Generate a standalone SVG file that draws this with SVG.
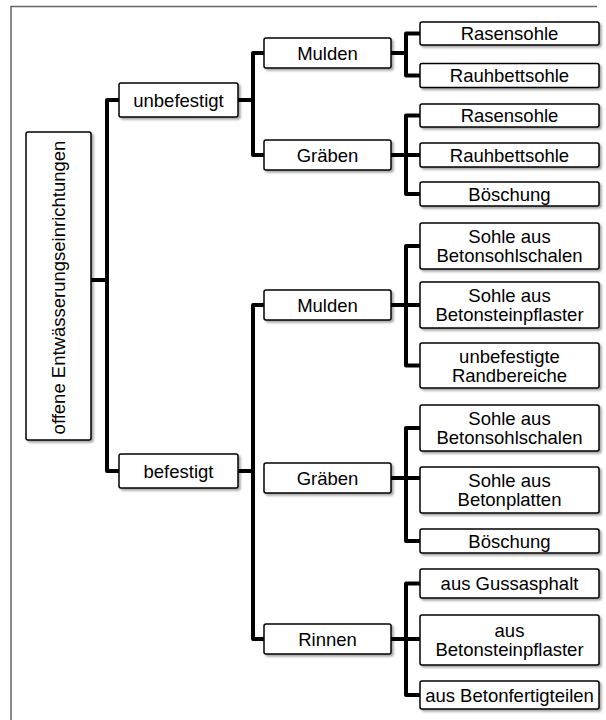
<svg xmlns="http://www.w3.org/2000/svg" width="606" height="720" viewBox="0 0 606 720">
<style>
.box{fill:#fff;stroke:#000;stroke-width:1.5;filter:url(#sh)}
.t{font-family:"Liberation Sans",Arial,sans-serif;font-size:18.5px;fill:#000;text-anchor:middle}
.c{fill:none;stroke:#000;stroke-width:4;stroke-linejoin:round}
.frame{fill:none;stroke:#666;stroke-width:1.5}
</style>
<defs>
<filter id="sh" x="-10%" y="-10%" width="130%" height="140%">
<feGaussianBlur in="SourceAlpha" stdDeviation="1.2"/>
<feOffset dx="1.5" dy="2" result="o"/>
<feComponentTransfer><feFuncA type="linear" slope="0.35"/></feComponentTransfer>
<feMerge><feMergeNode/><feMergeNode in="SourceGraphic"/></feMerge>
</filter>
</defs>
<rect width="606" height="720" fill="#fff"/>
<path class="frame" d="M11,720 V6.5 H597"/>
<g id="connectors">
<path class="c" d="M91,280 H107 M123,100 H107 V471 H123"/>
<path class="c" d="M238,100 H253 M268,53 H253 V155 H268"/>
<path class="c" d="M238,471 H253 M268,305 H253 V639 H268"/>
<path class="c" d="M391,53 H406 M424,33.5 H406 V75.5 H424"/>
<path class="c" d="M391,155 H424 M424,115.5 H406 V194 H424"/>
<path class="c" d="M391,305 H424 M424,246 H406 V365.5 H424"/>
<path class="c" d="M391,478 H424 M424,428 H406 V541 H424"/>
<path class="c" d="M391,639 H424 M424,583.5 H406 V695 H424"/>
</g>
<g id="root"><rect class="box" x="26" y="132" width="65" height="308" rx="2"/><text class="t" transform="translate(64.5,287.5) rotate(-90)">offene Entwässerungseinrichtungen</text></g>
<g id="unbefestigt"><rect class="box" x="119" y="83" width="119" height="34" rx="2"/><text class="t" x="178.5" y="106.5">unbefestigt</text></g>
<g id="befestigt"><rect class="box" x="119" y="454" width="119" height="34" rx="2"/><text class="t" x="178.5" y="477.5">befestigt</text></g>
<g id="mulden1"><rect class="box" x="264" y="38" width="127" height="30" rx="2"/><text class="t" x="327.5" y="59.5">Mulden</text></g>
<g id="graeben1"><rect class="box" x="264" y="140" width="127" height="30" rx="2"/><text class="t" x="327.5" y="161.5">Gräben</text></g>
<g id="mulden2"><rect class="box" x="264" y="290" width="127" height="30" rx="2"/><text class="t" x="327.5" y="311.5">Mulden</text></g>
<g id="graeben2"><rect class="box" x="264" y="463" width="127" height="30" rx="2"/><text class="t" x="327.5" y="484.5">Gräben</text></g>
<g id="rinnen"><rect class="box" x="264" y="624" width="127" height="30" rx="2"/><text class="t" x="327.5" y="645.5">Rinnen</text></g>
<g id="l1"><rect class="box" x="420" y="22" width="179" height="23" rx="2"/><text class="t" x="509.5" y="40">Rasensohle</text></g>
<g id="l2"><rect class="box" x="420" y="63.5" width="179" height="24" rx="2"/><text class="t" x="509.5" y="82">Rauhbettsohle</text></g>
<g id="l3"><rect class="box" x="420" y="104" width="179" height="23" rx="2"/><text class="t" x="509.5" y="122">Rasensohle</text></g>
<g id="l4"><rect class="box" x="420" y="143" width="179" height="24" rx="2"/><text class="t" x="509.5" y="161.5">Rauhbettsohle</text></g>
<g id="l5"><rect class="box" x="420" y="182" width="179" height="24" rx="2"/><text class="t" x="509.5" y="200.5">Böschung</text></g>
<g id="l6"><rect class="box" x="420" y="223" width="179" height="46" rx="2"/><text class="t" x="509.5" y="243">Sohle aus</text><text class="t" x="509.5" y="262">Betonsohlschalen</text></g>
<g id="l7"><rect class="box" x="420" y="282" width="179" height="46" rx="2"/><text class="t" x="509.5" y="302">Sohle aus</text><text class="t" x="509.5" y="321">Betonsteinpflaster</text></g>
<g id="l8"><rect class="box" x="420" y="343" width="179" height="45" rx="2"/><text class="t" x="509.5" y="362.5">unbefestigte</text><text class="t" x="509.5" y="381.5">Randbereiche</text></g>
<g id="l9"><rect class="box" x="420" y="405" width="179" height="46" rx="2"/><text class="t" x="509.5" y="425">Sohle aus</text><text class="t" x="509.5" y="444">Betonsohlschalen</text></g>
<g id="l10"><rect class="box" x="420" y="467" width="179" height="46" rx="2"/><text class="t" x="509.5" y="487">Sohle aus</text><text class="t" x="509.5" y="506">Betonplatten</text></g>
<g id="l11"><rect class="box" x="420" y="529" width="179" height="24" rx="2"/><text class="t" x="509.5" y="547.5">Böschung</text></g>
<g id="l12"><rect class="box" x="420" y="569" width="179" height="29" rx="2"/><text class="t" x="509.5" y="590">aus Gussasphalt</text></g>
<g id="l13"><rect class="box" x="420" y="615" width="179" height="50" rx="2"/><text class="t" x="509.5" y="637">aus</text><text class="t" x="509.5" y="656">Betonsteinpflaster</text></g>
<g id="l14"><rect class="box" x="420" y="681" width="179" height="28" rx="2"/><text class="t" x="509.5" y="701.5">aus Betonfertigteilen</text></g>
</svg>
